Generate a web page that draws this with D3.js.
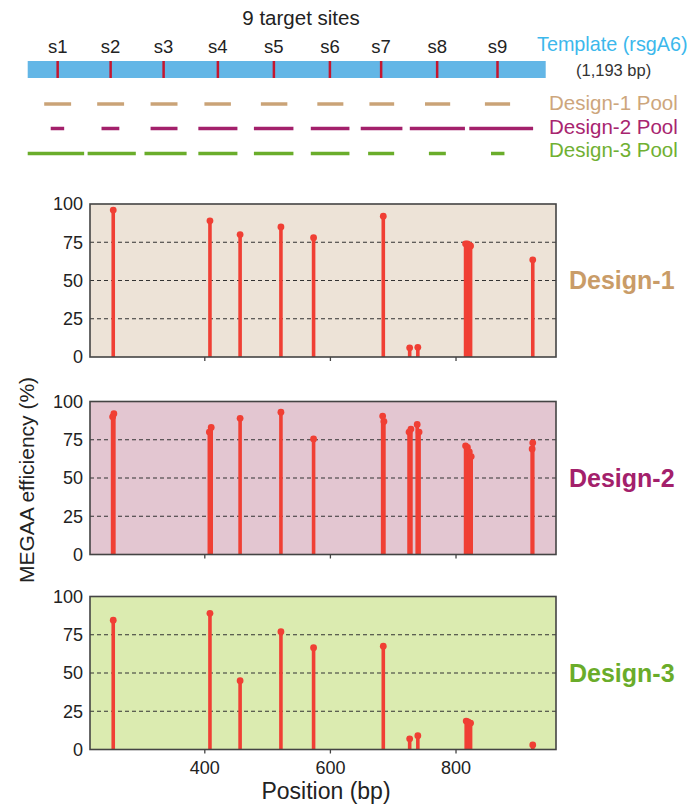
<!DOCTYPE html>
<html>
<head>
<meta charset="utf-8">
<script src="https://cdn.jsdelivr.net/npm/d3@7"></script>
<style>
  body { margin: 0; background: #fff; }
  svg { font-family: "Liberation Sans", Arial, sans-serif; }
</style>
</head>
<body>
<div id="chart"></div>
<script>
// template schematic (bp)
const templateLength = 1193;
const siteLabels = ["s1", "s2", "s3", "s4", "s5", "s6", "s7", "s8", "s9"];
const siteBp = [69, 191, 313, 438, 567, 696, 814, 943, 1082];

const pool1Start = [38, 160, 283, 407, 537, 667, 787, 915, 1053];
const pool1End   = [100, 222, 345, 468, 598, 727, 844, 973, 1111];
const pool2Start = [53, 170, 283, 393, 521, 652, 767, 880, 1017];
const pool2End   = [84, 211, 345, 483, 612, 741, 863, 1007, 1164];
const pool3Start = [0, 138, 269, 393, 521, 652, 784, 924, 1067];
const pool3End   = [130, 249, 366, 483, 612, 741, 844, 963, 1098];

// MEGAA efficiency per position
const design1Pos = [255, 409, 457, 522, 574, 685, 727, 740, 816, 819, 822, 824, 923];
const design1Eff = [96, 89, 80, 85, 78, 92, 6, 6.3, 74, 74, 73, 72.6, 63.5];

const design2Pos = [254, 256, 408, 411, 457, 522, 574, 684, 686, 726, 729, 739, 742, 816, 819, 822, 825, 922, 923];
const design2Eff = [90, 92, 80, 83, 89, 93, 75.5, 90.5, 87, 80, 82, 85, 80, 71, 70, 67, 64, 69, 73];

const design3Pos = [255, 409, 457, 522, 574, 685, 727, 740, 817, 820, 824, 923];
const design3Eff = [84.5, 89, 45, 77, 66.5, 67.5, 7, 9, 18.6, 18, 17.3, 3];

const yTicks = [0, 25, 50, 75, 100];
const gridTicks = [25, 50, 75];
const xTicks = [400, 600, 800];

const svg = d3.select("#chart")
  .append("svg")
  .attr("width", 695)
  .attr("height", 808);

// ---- schematic ----
const tx = d3.scaleLinear().domain([0, templateLength]).range([27.7, 545.7]);

svg.append("text")
  .attr("x", 301)
  .attr("y", 25)
  .attr("text-anchor", "middle")
  .attr("font-size", 20.5)
  .attr("fill", "#222")
  .text("9 target sites");

svg.append("rect")
  .attr("x", tx(0))
  .attr("y", 61)
  .attr("width", tx(templateLength) - tx(0))
  .attr("height", 17)
  .attr("fill", "#63b6e6");

svg.selectAll(".site")
  .data(siteBp)
  .enter()
  .append("line")
  .attr("class", "site")
  .attr("x1", d => tx(d))
  .attr("x2", d => tx(d))
  .attr("y1", 61)
  .attr("y2", 78)
  .attr("stroke", "#c4162f")
  .attr("stroke-width", 2.5);

svg.selectAll(".site-label")
  .data(siteLabels)
  .enter()
  .append("text")
  .attr("class", "site-label")
  .attr("x", (d, i) => tx(siteBp[i]))
  .attr("y", 53)
  .attr("text-anchor", "middle")
  .attr("font-size", 18.5)
  .attr("fill", "#222")
  .text(d => d);

svg.append("text")
  .attr("x", 537)
  .attr("y", 51)
  .attr("font-size", 19.8)
  .attr("fill", "#3cb8ec")
  .text("Template (rsgA6)");

svg.append("text")
  .attr("x", 576)
  .attr("y", 76)
  .attr("font-size", 16.5)
  .attr("fill", "#333")
  .text("(1,193 bp)");

const pools = [
  { start: pool1Start, end: pool1End, y: 104, color: "#caa377", label: "Design-1 Pool", ly: 109.5, lc: "#cda67c" },
  { start: pool2Start, end: pool2End, y: 128.5, color: "#a3206b", label: "Design-2 Pool", ly: 133.5, lc: "#a8256f" },
  { start: pool3Start, end: pool3End, y: 153.5, color: "#6aad2b", label: "Design-3 Pool", ly: 157, lc: "#70b032" }
];

pools.forEach(p => {
  svg.selectAll(null)
    .data(p.start)
    .enter()
    .append("line")
    .attr("x1", d => tx(d))
    .attr("x2", (d, i) => tx(p.end[i]))
    .attr("y1", p.y)
    .attr("y2", p.y)
    .attr("stroke", p.color)
    .attr("stroke-width", 3.5);

  svg.append("text")
    .attr("x", 549)
    .attr("y", p.ly)
    .attr("font-size", 20.5)
    .attr("fill", p.lc)
    .text(p.label);
});

// ---- panels ----
const x = d3.scaleLinear().domain([218, 960]).range([90, 556]);
const panelH = 153;

const panels = [
  { pos: design1Pos, eff: design1Eff, top: 204, bg: "#ede3d7", name: "Design-1", nc: "#c99c68" },
  { pos: design2Pos, eff: design2Eff, top: 401.5, bg: "#e3c6d1", name: "Design-2", nc: "#a3206b" },
  { pos: design3Pos, eff: design3Eff, top: 596.5, bg: "#dbebb0", name: "Design-3", nc: "#6aac2a" }
];

panels.forEach((p, pi) => {
  const y = d3.scaleLinear().domain([0, 100]).range([p.top + panelH, p.top]);
  const g = svg.append("g");

  g.append("rect")
    .attr("x", x.range()[0])
    .attr("y", p.top)
    .attr("width", x.range()[1] - x.range()[0])
    .attr("height", panelH)
    .attr("fill", p.bg);

  g.selectAll(".grid")
    .data(gridTicks)
    .enter()
    .append("line")
    .attr("x1", x.range()[0])
    .attr("x2", x.range()[1])
    .attr("y1", d => y(d))
    .attr("y2", d => y(d))
    .attr("stroke", "#333")
    .attr("stroke-width", 1.2)
    .attr("stroke-dasharray", "4,3");

  // stems
  g.selectAll(".stem")
    .data(p.pos)
    .enter()
    .append("line")
    .attr("x1", d => x(d))
    .attr("x2", d => x(d))
    .attr("y1", y(0))
    .attr("y2", (d, i) => y(p.eff[i]))
    .attr("stroke", "#f03f34")
    .attr("stroke-width", 3.6);

  g.selectAll(".dot")
    .data(p.pos)
    .enter()
    .append("circle")
    .attr("cx", d => x(d))
    .attr("cy", (d, i) => y(p.eff[i]))
    .attr("r", 3.4)
    .attr("fill", "#f03f34");

  // frame
  g.append("rect")
    .attr("x", x.range()[0])
    .attr("y", p.top)
    .attr("width", x.range()[1] - x.range()[0])
    .attr("height", panelH)
    .attr("fill", "none")
    .attr("stroke", "#444")
    .attr("stroke-width", 1.6);

  // y axis labels
  const yAxis = g.append("g")
    .attr("transform", `translate(${x.range()[0]},0)`)
    .call(d3.axisLeft(y).tickValues(yTicks).tickSize(0).tickPadding(7));
  yAxis.select(".domain").remove();
  yAxis.selectAll("text")
    .attr("font-size", 18)
    .attr("font-family", "Liberation Sans, Arial, sans-serif")
    .attr("fill", "#222");

  // x axis ticks
  const xAxis = g.append("g")
    .attr("transform", `translate(0,${y(0)})`)
    .call(d3.axisBottom(x).tickValues(xTicks).tickSize(4).tickPadding(8));
  xAxis.select(".domain").remove();
  xAxis.selectAll("line").attr("stroke", "#444").attr("stroke-width", 1.3);
  xAxis.selectAll("text")
    .attr("font-size", 18)
    .attr("font-family", "Liberation Sans, Arial, sans-serif")
    .attr("fill", "#222")
    .style("display", pi === panels.length - 1 ? null : "none");

  g.append("text")
    .attr("x", 569)
    .attr("y", p.top + 85)
    .attr("font-size", 25)
    .attr("font-weight", "bold")
    .attr("fill", p.nc)
    .text(p.name);
});

svg.append("text")
  .attr("x", 326)
  .attr("y", 799)
  .attr("text-anchor", "middle")
  .attr("font-size", 23)
  .attr("fill", "#222")
  .text("Position (bp)");

svg.append("text")
  .attr("transform", "translate(34,480) rotate(-90)")
  .attr("text-anchor", "middle")
  .attr("font-size", 21)
  .attr("fill", "#222")
  .text("MEGAA efficiency (%)");
</script>
</body>
</html>
